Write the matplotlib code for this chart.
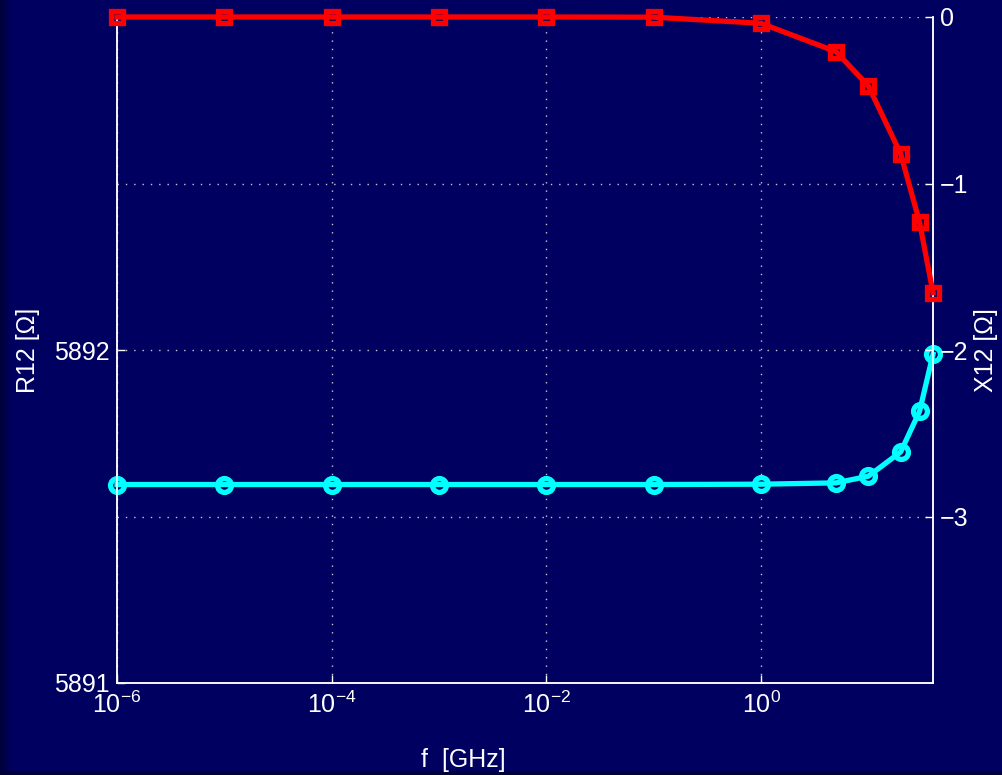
import numpy as np
import matplotlib
matplotlib.use('Agg')
import matplotlib.pyplot as plt

plt.rcParams['font.family'] = ['Liberation Sans', 'DejaVu Sans']
plt.rcParams['mathtext.default'] = 'regular'

# data
f = [1e-6, 1e-5, 1e-4, 1e-3, 1e-2, 1e-1, 1, 5, 10, 20, 30, 40]
R12 = [5891.596, 5891.596, 5891.596, 5891.596, 5891.596, 5891.596,
       5891.597, 5891.601, 5891.621, 5891.694, 5891.816, 5891.987]
X12 = [0, 0, 0, 0, 0, -0.001, -0.038, -0.208, -0.414, -0.822, -1.233, -1.655]

xticks = [1e-6, 1e-4, 1e-2, 1e0]
xticklabels = ['$10^{-6}$', '$10^{-4}$', '$10^{-2}$', '$10^{0}$']
rticks = [5891, 5892]
xticks_r = [0, -1, -2, -3]

bg = '#000060'
fg = 'white'
fs = 18

fig = plt.figure(figsize=(10.02, 7.75), dpi=100, facecolor=bg)

# dark strip on the left edge and the bottom
strip = fig.add_axes([0, 0, 12/1002, 1])
grad = np.linspace(0, 1, 50).reshape(1, -1)
strip.imshow(grad, aspect='auto', cmap=matplotlib.colors.LinearSegmentedColormap.from_list('g', ['#000038', bg]),
             extent=[0, 1, 0, 1])
strip.axis('off')
bot = fig.add_axes([0, 0, 1, 4/775])
bot.set_facecolor('#000038')
bot.set_xticks([]); bot.set_yticks([])
for s in bot.spines.values():
    s.set_visible(False)

ax1 = fig.add_axes([117/1002, 1-683/775, 816/1002, 666/775])
ax1.set_facecolor(bg)
ax2 = ax1.twinx()

ax1.plot(f, R12, '-o', color='cyan', lw=3.8, ms=10, mew=3.8, mfc='none', mec='cyan', clip_on=False, zorder=3)
ax2.plot(f, X12, '-s', color='red', lw=3.8, ms=8.4, mew=3.8, mfc='none', mec='red', clip_on=False, zorder=3)

ax1.set_xscale('log')
ax1.set_xlim(1e-6, 40)
ax1.set_ylim(5891, 5893)
ax2.set_ylim(-4, 0)

ax1.set_xticks(xticks)
ax1.set_xticklabels(xticklabels)
ax1.xaxis.set_minor_locator(matplotlib.ticker.NullLocator())
ax1.set_yticks(rticks)
ax2.set_yticks(xticks_r)

ax1.tick_params(axis='both', direction='in', length=6, width=1, colors=fg, labelsize=fs, pad=5)
ax1.tick_params(axis='x', pad=6)
ax2.tick_params(axis='y', direction='in', length=6, width=1, colors=fg, labelsize=fs, pad=5)

gkw = dict(color='#c8c8d0', linestyle=(0, (1, 5)), linewidth=1.0)
ax1.grid(True, axis='x', **gkw)
ax2.grid(True, axis='y', **gkw)

for ax in (ax1, ax2):
    ax.spines['top'].set_visible(False)
    for s in ('left', 'right', 'bottom'):
        ax.spines[s].set_color(fg)
        ax.spines[s].set_linewidth(1.1)

ax1.set_xlabel('f  [GHz]', color=fg, fontsize=fs)
ax1.xaxis.set_label_coords((463.5-117)/816, (683-748)/666)
ax1.set_ylabel('R12 [Ω]', color=fg, fontsize=fs)
ax1.yaxis.set_label_coords((40-117)/816, 0.5)
ax2.set_ylabel('X12 [Ω]', color=fg, fontsize=fs)
ax2.yaxis.set_label_coords((974-117)/816, 0.5)

plt.savefig('out.png', dpi=100, facecolor=bg)
